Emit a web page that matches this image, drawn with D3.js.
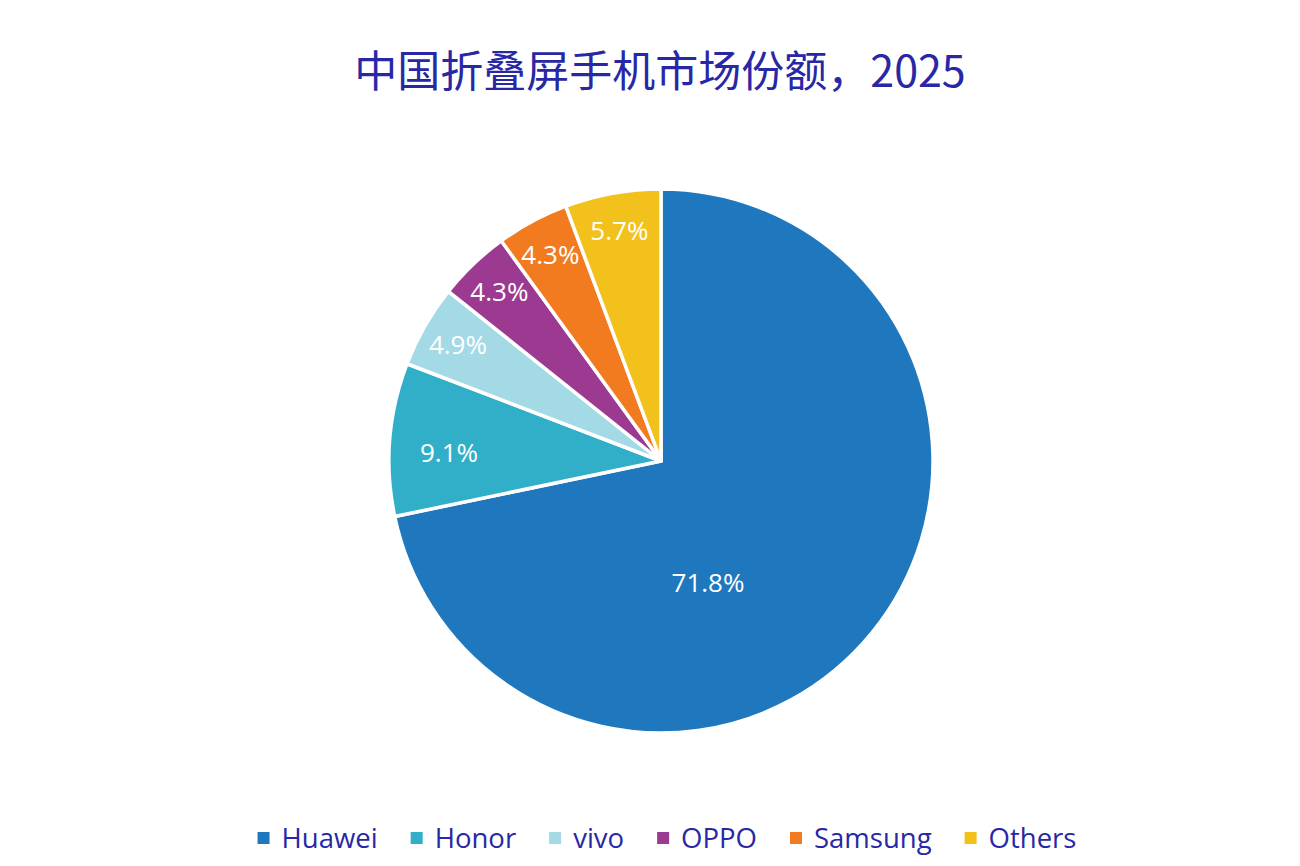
<!DOCTYPE html>
<html>
<head>
<meta charset="utf-8">
<script src="https://cdn.jsdelivr.net/npm/d3@7"></script>
<style>
	body { margin: 0; background: #fff; }
	svg { display: block; }
</style>
</head>
<body>
<div id="chart"></div>
<script>
// data
const brands = ["Huawei", "Honor", "vivo", "OPPO", "Samsung", "Others"];
const shares = [71.8, 9.1, 4.9, 4.3, 4.3, 5.7];
const colors = ["#1f78bd", "#32afc8", "#a3dae6", "#9c3a92", "#f37b1f", "#f3c11b"];
const title = "中国折叠屏手机市场份额，2025";

const width = 1300, height = 866;
const cx = 661, cy = 461, radius = 272;
const ink = "#2828a6";

let svg = d3.select("#chart").append("svg")
	.attr("width", width).attr("height", height);

svg.append("text")
	.attr("x", 660).attr("y", 87)
	.attr("text-anchor", "middle")
	.style("font-family", "'Noto Sans CJK SC', 'Noto Sans', sans-serif")
	.style("font-size", "43px")
	.style("font-weight", 400)
	.style("fill", ink)
	.text(title);

let rows = brands.map(function (b, i) {
	return {brand: b, value: shares[i], color: colors[i]};
});

// clockwise from 12 o'clock, in data order
let pie = d3.pie().sort(null).value(function (d) { return d.value; });
let arc = d3.arc().innerRadius(0).outerRadius(radius);

let g = svg.append("g").attr("transform", "translate(" + cx + "," + cy + ")");
let slices = g.selectAll(".slice").data(pie(rows)).enter().append("g").attr("class", "slice");

slices.append("path")
	.attr("d", arc)
	.attr("fill", function (d) { return d.data.color; })
	.attr("stroke", "#fff")
	.attr("stroke-width", 3.5)
	.attr("stroke-linejoin", "round");

// label position: small slices sit near the rim, the big one sits inside
function label_pos(d) {
	let span = d.endAngle - d.startAngle;
	let a, r;
	if (span > Math.PI) {
		a = (d.startAngle + d.endAngle) / 2 + 0.52;
		r = radius * 0.48;
	} else {
		a = (d.startAngle + d.endAngle) / 2;
		if (span > 0.5) {
			a -= 0.04;
			r = radius * 0.78;
		} else {
			r = radius * 0.86;
		}
	}
	return [Math.sin(a) * r, -Math.cos(a) * r];
}

slices.append("text")
	.attr("transform", function (d) { return "translate(" + label_pos(d) + ")"; })
	.attr("text-anchor", "middle")
	.attr("dy", "0.35em")
	.style("font-family", "'Open Sans', sans-serif")
	.style("font-size", "26px")
	.style("fill", "#fff")
	.text(function (d) { return d3.format(".1f")(d.data.value) + "%"; });

// legend, centred under the pie
let legend = svg.append("g");
let x = 0;
rows.forEach(function (d) {
	let item = legend.append("g").attr("transform", "translate(" + x + ",0)");
	item.append("rect")
		.attr("x", 0).attr("y", -6).attr("width", 12).attr("height", 12)
		.attr("fill", d.color);
	let t = item.append("text")
		.attr("x", 24).attr("dy", "0.35em")
		.style("font-family", "'Open Sans', sans-serif")
		.style("font-size", "27.5px")
		.style("fill", ink)
		.text(d.brand);
	x += 24 + t.node().getComputedTextLength() + 33;
});
let legend_w = x - 33;
legend.attr("transform", "translate(" + (667 - legend_w / 2) + ",838)");
</script>
</body>
</html>
